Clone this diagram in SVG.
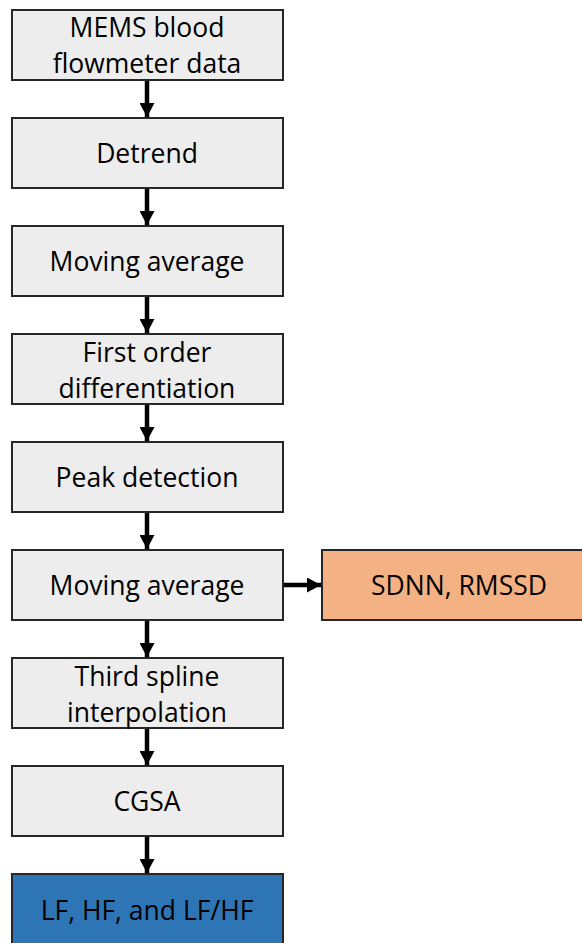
<svg xmlns="http://www.w3.org/2000/svg" width="582" height="943" viewBox="0 0 582 943">
  <defs>
    <marker id="arrowhead" viewBox="0 0 14 15" refX="14" refY="7.5" markerWidth="14" markerHeight="15" markerUnits="userSpaceOnUse" orient="auto">
      <path d="M0,0 L14,7.5 L0,15 Z" fill="#000"/>
    </marker>
    <style>
      .box { fill: #EDEDED; stroke: #262626; stroke-width: 2; }
      .orange { fill: #F4B183; }
      .blue { fill: #2E75B6; }
      .label { font-family: "Open Sans", "Liberation Sans", sans-serif; font-size: 26.5px; fill: #000; text-anchor: middle; dominant-baseline: central; }
      .conn { stroke: #000; stroke-width: 4.5; fill: none; marker-end: url(#arrowhead); }
    </style>
  </defs>
  <rect width="582" height="943" fill="#fff"/>

  <g id="connectors">
    <line class="conn" x1="147" y1="81" x2="147" y2="117"/>
    <line class="conn" x1="147" y1="189" x2="147" y2="225"/>
    <line class="conn" x1="147" y1="297" x2="147" y2="333"/>
    <line class="conn" x1="147" y1="405" x2="147" y2="441"/>
    <line class="conn" x1="147" y1="513" x2="147" y2="549"/>
    <line class="conn" x1="147" y1="621" x2="147" y2="657"/>
    <line class="conn" x1="147" y1="729" x2="147" y2="765"/>
    <line class="conn" x1="147" y1="837" x2="147" y2="873"/>
    <line class="conn" x1="284" y1="585" x2="321" y2="585"/>
  </g>

  <g id="node-data">
    <rect class="box" x="12" y="10" width="271" height="70"/>
    <text class="label" x="147" y="27">MEMS blood</text>
    <text class="label" x="147" y="63">flowmeter data</text>
  </g>
  <g id="node-detrend">
    <rect class="box" x="12" y="118" width="271" height="70"/>
    <text class="label" x="147" y="153">Detrend</text>
  </g>
  <g id="node-moving-average-1">
    <rect class="box" x="12" y="226" width="271" height="70"/>
    <text class="label" x="147" y="261">Moving average</text>
  </g>
  <g id="node-differentiation">
    <rect class="box" x="12" y="334" width="271" height="70"/>
    <text class="label" x="147" y="352">First order</text>
    <text class="label" x="147" y="388">differentiation</text>
  </g>
  <g id="node-peak">
    <rect class="box" x="12" y="442" width="271" height="70"/>
    <text class="label" x="147" y="477">Peak detection</text>
  </g>
  <g id="node-moving-average-2">
    <rect class="box" x="12" y="550" width="271" height="70"/>
    <text class="label" x="147" y="585">Moving average</text>
  </g>
  <g id="node-time-domain">
    <rect class="box orange" x="322" y="550" width="272" height="70"/>
    <text class="label" x="459" y="585">SDNN, RMSSD</text>
  </g>
  <g id="node-spline">
    <rect class="box" x="12" y="658" width="271" height="70"/>
    <text class="label" x="147" y="676">Third spline</text>
    <text class="label" x="147" y="712">interpolation</text>
  </g>
  <g id="node-cgsa">
    <rect class="box" x="12" y="766" width="271" height="70"/>
    <text class="label" x="147" y="801">CGSA</text>
  </g>
  <g id="node-frequency-domain">
    <rect class="box blue" x="12" y="874" width="271" height="72"/>
    <text class="label" x="147" y="910">LF, HF, and LF/HF</text>
  </g>
</svg>
